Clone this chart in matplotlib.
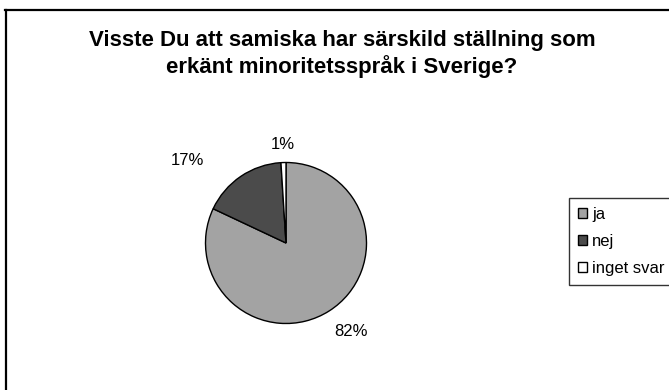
import numpy as np
import matplotlib
matplotlib.use("Agg")
import matplotlib.pyplot as plt
from matplotlib.lines import Line2D

plt.rcParams['font.family'] = ['Liberation Sans', 'DejaVu Sans']

title_lines = ["Visste Du att samiska har särskild ställning som",
               "erkänt minoritetsspråk i Sverige?"]
categories = ["ja", "nej", "inget svar"]
values = [82, 17, 1]
colors = ["#a3a3a3", "#4b4b4b", "#ffffff"]

W, H = 669, 390
fig = plt.figure(figsize=(W / 100, H / 100), dpi=100)

# Pie axes: centre and radius in pixels
cx, cy, r = 286, 243, 80.5
half = 140
ax = fig.add_axes([(cx - half) / W, (H - cy - half) / H, 2 * half / W, 2 * half / H])

wedges, _ = ax.pie(values, colors=colors, startangle=90, counterclock=False,
                   radius=1.0, wedgeprops=dict(edgecolor='black', linewidth=1.0))
lim = half / r
ax.set_xlim(-lim, lim)
ax.set_ylim(-lim, lim)
ax.set_aspect('equal')
ax.axis('off')

# Percentage labels outside each wedge
label_dist = [1.36, 1.60, 1.22]
label_shift = [4, 16, 0]  # degrees, counter-clockwise tweak
for w, v, d, s in zip(wedges, values, label_dist, label_shift):
    ang = np.deg2rad((w.theta1 + w.theta2) / 2 + s)
    ax.text(d * np.cos(ang), d * np.sin(ang), f"{v}%", ha='center', va='center',
            fontsize=12, color='black')

# Two-line bold title, baselines placed in pixels
for line, base in zip(title_lines, [46, 73]):
    fig.text(342 / W, 1 - base / H, line, ha='center', va='baseline', fontsize=16,
             fontweight='bold')

# Chart-area border (left and top edges)
fig.add_artist(Line2D([6 / W, 6 / W], [0, 1 - 10 / H], transform=fig.transFigure,
                      color='black', linewidth=1.6))
fig.add_artist(Line2D([5 / W, 1], [1 - 10 / H, 1 - 10 / H], transform=fig.transFigure,
                      color='black', linewidth=1.6))

leg = fig.legend(wedges, categories, loc='upper left',
                 bbox_to_anchor=(569 / W, 1 - 198 / H), fontsize=12,
                 frameon=True, fancybox=False, edgecolor='black',
                 handlelength=0.55, handleheight=0.55, handletextpad=0.3,
                 labelspacing=0.7, borderpad=0.55, borderaxespad=0)
leg.get_frame().set_linewidth(1.0)

fig.savefig("out.png", dpi=100, facecolor='white')
